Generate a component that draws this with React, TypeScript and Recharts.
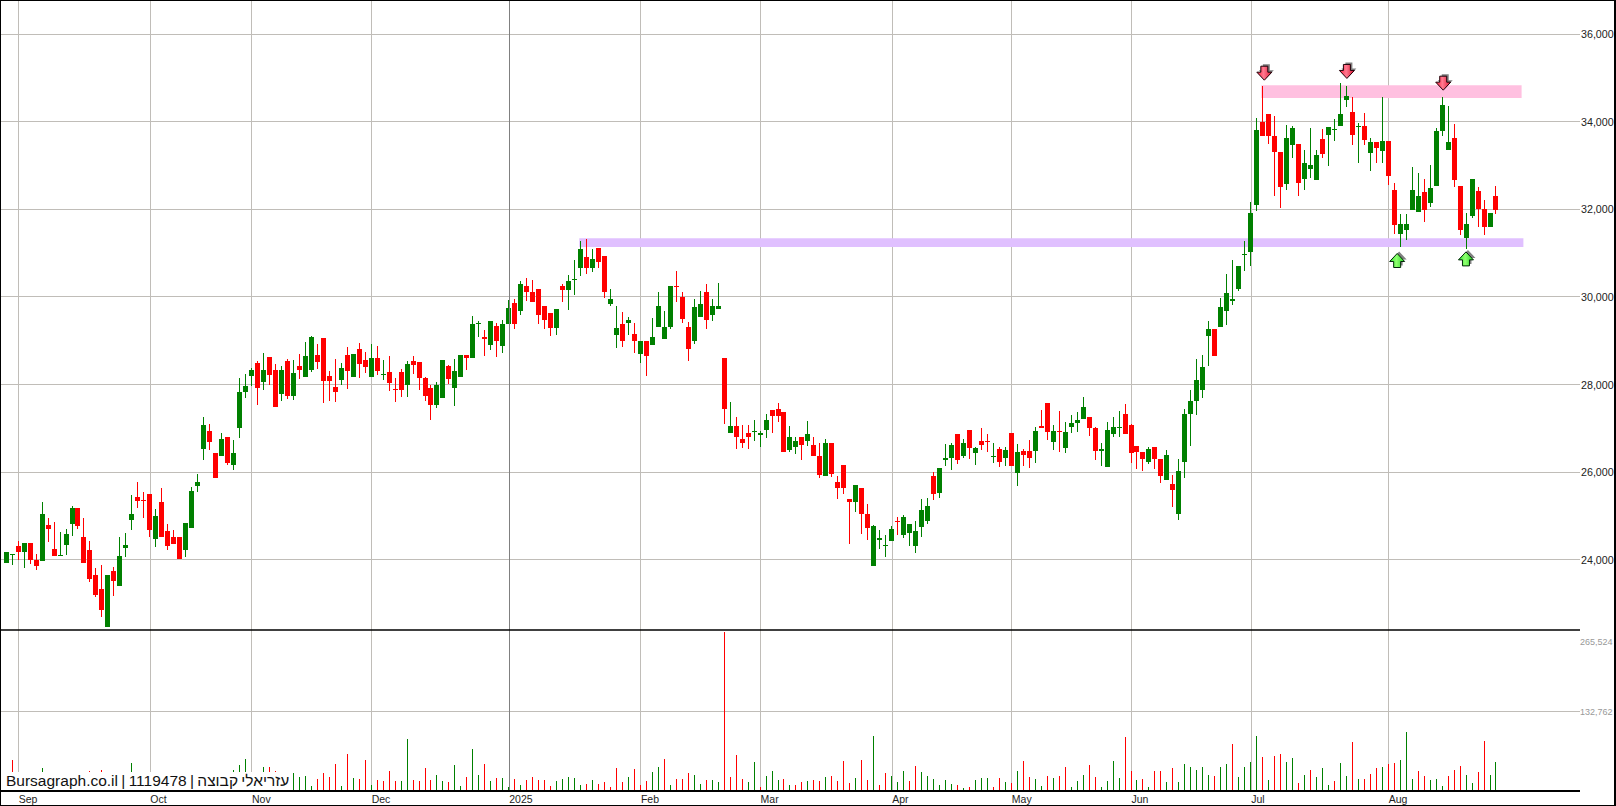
import {
  Bar,
  CartesianGrid,
  ComposedChart,
  ReferenceArea,
  ReferenceDot,
  ReferenceLine,
  XAxis,
  YAxis,
} from 'recharts';

const opens = [
  23915,24098,24304,24167,24372,23984,23961,24784,24235,24083,
  24327,24807,25172,24510,24212,23641,23321,22452,23732,23390,
  24258,24898,25424,25355,25492,24464,25310,24647,24510,24510,
  24212,24715,25675,26521,26932,26430,26361,26795,26155,27000,
  27824,28189,28487,28052,28624,28327,27778,28532,27732,28418,
  28167,28327,28669,29058,28189,27938,28098,28669,28167,28807,
  28555,28167,28601,28212,28281,27892,28281,27984,28532,28509,
  28144,27915,27527,27687,28418,27915,28167,28669,28601,29378,
  29081,28898,29332,28875,29378,29858,29675,30246,30109,30178,
  29789,29629,29286,30246,30155,30384,30658,30909,30658,31115,
  30932,29835,29126,29378,29401,29149,28692,28989,28898,29309,
  29035,29309,30246,29995,29309,28989,29538,30109,29584,29721,
  28602,26887,27047,26750,26887,26910,26842,26956,27413,27436,
  27367,26499,26567,26796,26704,26613,26362,25904,26659,25767,
  26156,25379,25310,25630,25036,23847,24442,24304,24419,24876,
  24556,24602,24304,24739,24876,25904,25516,26270,26316,26864,
  26361,26956,26430,26704,26704,26338,26521,26316,26887,25973,
  26476,26476,26476,27047,27573,26681,26933,26544,27024,27116,
  27207,27253,27001,26476,26110,26864,27001,27321,27070,26590,
  26453,26224,26567,26293,25813,25722,25036,26225,27322,27619,
  27870,29105,29265,29310,29676,29904,30179,30956,31025,32099,
  33996,34179,33676,33310,32579,33470,33493,32693,32922,32670,
  33607,33699,33813,33904,34499,34224,33882,33904,33287,33539,
  33333,33562,32442,31436,31527,31984,31939,32396,32145,32533,
  33790,33356,33630,32533,31344,31847,32419,32007,31596,32304,
];

const closes = [
  24167,24121,24167,24372,23984,23847,25035,24692,24075,24098,
  24578,25172,24761,23915,23550,23184,22841,23641,23504,24075,
  24327,25035,25332,25332,24670,24990,24510,24304,24350,24007,
  24830,25561,25767,27070,26681,25858,26750,26201,26430,27824,
  27961,28327,27915,28327,28212,27481,28327,27732,28258,28327,
  28647,29081,28509,28075,28075,27824,28372,28304,28692,28464,
  28395,28601,28304,28235,28029,27869,27869,28464,28441,28144,
  27732,27527,27984,28555,28121,28304,28669,28601,29378,29401,
  29035,29446,28989,29378,29744,29378,30292,30109,29881,29584,
  29469,29286,29721,30155,30361,30406,31092,30658,30864,30795,
  30109,29949,29286,28989,29469,28989,28989,28646,29081,29789,
  29309,30246,30224,29492,28806,29766,29835,29469,29789,29789,
  27436,27047,26796,26659,26796,26933,26887,27184,27276,27276,
  26453,26796,26704,26613,26864,26362,25927,26659,25950,25630,
  25630,25310,25699,25036,24716,24762,24487,24327,24693,24853,
  24967,24807,24647,25127,25219,25493,26087,26316,26613,26270,
  26658,26544,26544,26613,26681,26361,26224,26498,26133,26453,
  26384,26316,26933,27001,26910,26933,26910,26910,27116,27184,
  27481,27001,26476,26521,26956,27024,27024,26864,26430,26453,
  26293,26521,26293,25904,26384,25584,26019,27322,27619,28099,
  28396,29265,28647,29767,30087,29950,30705,30979,31916,33813,
  33676,33676,33310,32510,33630,33859,32602,33059,33013,33242,
  33264,33882,33836,34179,34590,33699,33904,33584,33539,33402,
  33562,32762,31642,31664,31664,32442,32304,31984,32487,33790,
  34384,33539,32670,31527,31664,32693,32007,31596,31916,31984,
];

const highs = [
  24167,24136,24418,24372,24372,24121,25310,24944,24852,24624,
  24692,25218,25172,24944,24418,23801,23870,23641,23824,24510,
  24601,25470,25767,25538,25492,25150,25630,24807,24670,24510,
  24830,25652,25950,27252,27092,26430,26887,26795,26727,28144,
  28235,28372,28532,28715,28624,28464,28418,28578,28555,28692,
  28967,29104,28921,29058,28304,28578,28487,28852,28692,28944,
  28738,28921,28875,28555,28647,28144,28349,28532,28647,28509,
  28167,27984,28052,28555,28441,28578,28669,28669,29561,29447,
  29241,29446,29401,29469,29926,29949,30361,30429,30384,30178,
  29789,29629,29721,30292,30498,30841,31275,31321,31092,31115,
  30932,30178,29789,29652,29538,29401,28989,28989,29515,30109,
  29675,30246,30589,30109,29424,29949,30132,30292,29949,30315,
  28602,27596,27253,27070,27070,27184,26933,27322,27413,27573,
  27367,27047,26796,26796,27162,26796,26659,26750,26659,25904,
  26156,25379,25699,25630,25264,24785,24670,24556,24762,24967,
  25013,24807,24876,25379,25402,25996,26087,26636,26659,26864,
  26750,26956,26567,27001,26864,26658,26567,26567,26887,26636,
  26521,26727,27024,27413,27573,27070,27390,27138,27298,27367,
  27710,27253,27024,26658,27138,27253,27390,27550,27093,26590,
  26453,26567,26567,26293,26498,25927,26293,27436,27870,28579,
  28670,29447,29265,29973,30522,30842,30705,31276,32167,34087,
  34819,34179,34133,33310,33927,33904,33493,33356,33859,33356,
  33836,33882,34064,34887,34819,34567,33973,34202,33630,33539,
  34567,33562,32602,31893,31893,32967,32830,32693,33013,33859,
  34567,34362,33950,32533,31916,32693,32510,32213,31916,32533,
];

const lows = [
  23915,23870,23984,23801,23892,23755,23961,24395,24075,24075,
  24098,24532,24692,23915,23481,23138,22690,22452,23161,23390,
  24053,24670,25172,24944,24510,24281,24510,24212,24350,24007,
  24053,24715,25538,26270,26498,25858,26361,26155,26041,26772,
  27687,27961,27527,27869,27984,27481,27618,27664,27641,28121,
  28167,28281,28349,27572,27618,27595,27984,27892,28167,28144,
  28258,28167,28212,28098,27847,27595,27709,27709,28235,27869,
  27618,27184,27458,27687,28007,27504,28167,28327,28601,29081,
  28647,28784,28624,28715,29378,29264,29584,29904,29881,29378,
  29264,29104,29126,29881,29698,30041,30475,30521,30566,30658,
  29972,29789,28829,28852,29126,28715,28486,28189,28898,29309,
  29035,29264,29881,29401,28532,28921,29538,29264,29446,29721,
  27093,26887,26522,26545,26522,26704,26567,26773,26887,27139,
  26453,26453,26407,26270,26590,26362,25859,25904,25882,25379,
  25493,24350,25082,24579,24442,23847,24236,24053,24419,24556,
  24487,24304,24144,24510,24807,25356,25402,26133,26042,26179,
  26316,26293,26156,26498,26453,26201,26110,26133,26133,25676,
  26133,26087,26201,27001,26727,26498,26453,26430,26887,26910,
  27207,26818,26270,26133,26110,26796,26796,26864,26201,26064,
  26018,26178,26064,25744,25813,25196,24899,25859,26590,27299,
  27687,28419,28647,29310,29356,29813,30133,30590,30705,31962,
  33676,33493,32304,32030,32442,33173,32304,32442,32716,32670,
  33173,32990,33562,33904,34339,33470,33059,33470,32876,33059,
  33059,32556,31436,31139,31299,31984,31939,31710,32053,32533,
  33676,33356,32510,31413,31093,31802,31596,31413,31596,31893,
];

const volumes = [
  16700,52400,16700,19500,22300,13900,39000,16700,22300,16700,
  16700,16700,19500,19500,34000,19500,35600,25100,16700,22300,
  13900,47300,16700,11100,19500,19500,22300,16700,13900,16700,
  19500,25100,13900,22300,16700,22300,16700,19500,35100,44000,
  54000,16700,22300,40700,40700,34000,19500,32300,30600,24000,
  25600,8900,20600,30600,24000,45700,8900,62400,22300,20600,
  52400,10600,18900,17300,34000,17300,17300,87400,18900,17300,
  39000,18900,27300,17300,15600,44000,8900,24000,70700,27300,
  45700,17300,22300,22300,7200,20600,10600,18900,24000,18900,
  18900,8900,17300,20600,24000,22300,10600,12300,18900,12300,
  15600,7200,39000,15600,24000,37300,10600,17300,32300,40700,
  54000,10600,20600,20600,30600,27300,12300,18900,18900,15600,
  265524,24000,60700,20600,15600,49000,7200,25600,34000,18900,
  20600,10600,10600,15600,17300,18900,17300,24000,25600,17300,
  50700,13900,22300,52400,18900,92500,10600,30600,25600,15600,
  34000,17300,42300,32300,25600,20600,10600,18900,12300,10600,
  5600,7200,18900,22300,22300,7200,22300,15600,13900,34000,
  50700,24000,20600,8900,25600,22300,25600,40700,7200,17300,
  27300,44000,24000,7200,17300,50700,22300,90800,34000,18900,
  20600,7200,34000,34000,15600,39000,15600,45700,40700,35600,
  39500,26200,24500,39500,44600,78000,22800,39500,47900,91300,
  56300,17800,57900,61300,47900,54600,12800,26200,34500,22800,
  37900,9500,16200,46200,24500,81300,19500,19500,27900,37900,
  39500,44600,46200,51200,98000,19500,32900,24500,17800,19500,
  7800,24500,34500,41200,26200,12800,31200,83000,26200,47900,
];

// 1 = closed above the previous close, 0 = below
const volumeUp = [
  1,0,0,1,0,0,1,0,0,1, 1,1,0,0,0,0,0,1,0,1,
  1,1,0,0,0,1,0,0,0,0, 1,1,1,1,0,0,1,0,1,1,
  1,1,0,1,0,0,1,0,1,1, 1,1,0,0,0,0,1,0,1,0,
  0,1,0,0,0,0,1,1,0,0, 0,0,1,1,0,1,1,0,1,1,
  0,1,0,1,1,0,1,0,0,0, 0,0,1,1,1,1,1,0,1,0,
  0,0,0,0,1,0,0,0,1,1, 0,1,0,0,0,1,1,0,1,1,
  0,0,0,0,1,1,0,1,1,1, 0,1,0,0,1,0,0,1,0,0,
  0,0,1,0,0,1,0,0,1,1, 1,0,0,1,1,1,1,1,1,0,
  1,0,1,1,1,0,0,1,0,1, 0,0,1,1,0,1,0,0,1,1,
  1,0,0,1,1,1,1,0,0,1, 0,1,0,0,1,0,1,1,1,1,
  1,1,0,1,1,0,1,1,1,1, 0,1,0,0,1,1,0,1,0,1,
  1,1,0,1,1,0,1,0,0,0, 1,0,0,1,1,1,0,0,1,1,
  1,0,0,0,1,1,0,0,1,1,
];

const monthTicks = [2, 24, 41, 61, 84, 106, 126, 148, 168, 188, 208, 231];
const monthLabels = ['Sep', 'Oct', 'Nov', 'Dec', '2025', 'Feb', 'Mar', 'Apr', 'May', 'Jun', 'Jul', 'Aug'];
const yearTick = 84;

const priceTicks = [24000, 26000, 28000, 30000, 32000, 34000, 36000];
const volumeTicks = [132762, 265524];

const resistanceBand = { from: 209.7, to: 253.2, low: 34551, high: 34841 };
const supportBand = { from: 95.7, to: 253.5, low: 31145, high: 31344 };

const downArrows = [
  { index: 210.2, price: 34955 },
  { index: 224, price: 34995 },
  { index: 240.1, price: 34727 },
];
const upArrows = [
  { index: 232.4, price: 30994 },
  { index: 243.9, price: 31031 },
];

const xDomain = [-1.118, 262.96];
const priceDomain = [22389, 36788];
const volumeDomain = [0, 268870];

const GREEN = '#008000';
const RED = '#ff0000';
const GRID = '#c0bdb8';
const FONT = '"Liberation Sans", Arial, sans-serif';

const candleData = opens.map((open, i) => ({
  index: i,
  open,
  close: closes[i],
  high: highs[i],
  low: lows[i],
  range: [lows[i], highs[i]],
}));

const volumeData = volumes.map((volume, i) => ({
  index: i,
  volume,
  up: volumeUp[i] === 1,
}));

// snap grid lines onto whole pixels, same columns as the candles
const monthGridLines = ({ offset }: any) =>
  monthTicks.map(
    (t) => Math.floor(offset.left + ((t - xDomain[0]) / (xDomain[1] - xDomain[0])) * offset.width) + 0.5
  );
const priceGridLines = ({ offset }: any) =>
  priceTicks.map(
    (t) => Math.floor(offset.top + ((priceDomain[1] - t) / (priceDomain[1] - priceDomain[0])) * offset.height) + 0.5
  );
const volumeGridLines = ({ offset }: any) => [
  Math.floor(offset.top + ((volumeDomain[1] - volumeTicks[0]) / (volumeDomain[1] - volumeDomain[0])) * offset.height) + 0.5,
];

const Candle = (props: any) => {
  const { x, y, width, height, payload } = props;
  const { open, close, high, low } = payload;
  const perUnit = Math.abs(height) / (high - low);
  const px = Math.floor(x + width / 2);
  const top = y + (high - Math.max(open, close)) * perUnit;
  const bodyHeight = Math.max(Math.abs(open - close) * perUnit, 1);
  const color = close >= open ? GREEN : RED;
  return (
    <g shapeRendering="crispEdges">
      <rect x={px} y={y} width={1} height={Math.abs(height)} fill={color} />
      <rect x={px - 2} y={top} width={5} height={bodyHeight} fill={color} />
    </g>
  );
};

const VolumeBar = (props: any) => {
  const { x, y, width, height, payload } = props;
  return (
    <rect
      x={Math.floor(x + width / 2)}
      y={y}
      width={1}
      height={height}
      fill={payload.up ? GREEN : RED}
      shapeRendering="crispEdges"
    />
  );
};

const DownArrow = (props: any) => {
  const { cx, cy } = props;
  const points = `${cx - 3.5},${cy - 14} ${cx + 3.5},${cy - 14} ${cx + 3.5},${cy - 8} ${cx + 7.5},${cy - 8} ${cx},${cy} ${cx - 7.5},${cy - 8} ${cx - 3.5},${cy - 8}`;
  return (
    <g>
      <defs>
        <linearGradient id="arrowRed" x1="0" y1="0" x2="1" y2="0">
          <stop offset="0" stopColor="#ff1a3c" />
          <stop offset="0.45" stopColor="#ff7a90" />
          <stop offset="1" stopColor="#e01030" />
        </linearGradient>
      </defs>
      <polygon points={points} fill="#808080" transform="translate(2,-2)" />
      <polygon points={points} fill="url(#arrowRed)" stroke="#200008" strokeWidth={1} />
    </g>
  );
};

const UpArrow = (props: any) => {
  const { cx, cy } = props;
  const points = `${cx - 3.5},${cy + 14} ${cx + 3.5},${cy + 14} ${cx + 3.5},${cy + 8} ${cx + 7.5},${cy + 8} ${cx},${cy} ${cx - 7.5},${cy + 8} ${cx - 3.5},${cy + 8}`;
  return (
    <g>
      <defs>
        <linearGradient id="arrowGreen" x1="0" y1="0" x2="1" y2="0">
          <stop offset="0" stopColor="#28e828" />
          <stop offset="0.45" stopColor="#90ff70" />
          <stop offset="1" stopColor="#20d820" />
        </linearGradient>
      </defs>
      <polygon points={points} fill="#808080" transform="translate(2,-2)" />
      <polygon points={points} fill="url(#arrowGreen)" stroke="#002808" strokeWidth={1} />
    </g>
  );
};

const NoTick = () => <g />;

const MonthTick = (props: any) => {
  const { x, y, payload } = props;
  return (
    <text x={x} y={y + 10} textAnchor="start" fontFamily={FONT} fontSize={10.5} fill="#222">
      {monthLabels[monthTicks.indexOf(payload.value)]}
    </text>
  );
};

const VolumeTick = (props: any) => {
  const { x, y, payload } = props;
  // the top label hangs under its line so it stays clear of the price panel
  const shift = payload.value === volumeTicks[1] ? 13 : 3;
  return (
    <text x={x - 2} y={y + shift} textAnchor="start" fontFamily={FONT} fontSize={9} fill="#999">
      {payload.value.toLocaleString('en-US')}
    </text>
  );
};

const PriceTick = (props: any) => {
  const { x, y, payload } = props;
  return (
    <text x={x - 1} y={y + 4} textAnchor="start" fontFamily={FONT} fontSize={10.7} fill="#222">
      {payload.value.toLocaleString('en-US')}
    </text>
  );
};

function PriceChart() {
  return (
    <ComposedChart
      width={1616}
      height={631}
      data={candleData}
      margin={{ top: 0, right: 0, bottom: 1, left: 0 }}
    >
      <CartesianGrid
        stroke={GRID}
        verticalCoordinatesGenerator={monthGridLines}
        horizontalCoordinatesGenerator={priceGridLines}
      />
      <XAxis
        dataKey="index"
        type="number"
        domain={xDomain}
        ticks={monthTicks}
        interval={0}
        allowDataOverflow
        tick={<NoTick />}
        tickLine={false}
        axisLine={false}
        height={0}
      />
      <YAxis
        orientation="right"
        width={36}
        domain={priceDomain}
        ticks={priceTicks}
        interval={0}
        allowDataOverflow
        tick={<PriceTick />}
        tickLine={false}
        tickSize={0}
        axisLine={false}
      />
      <ReferenceLine x={yearTick} stroke="#808080" shapeRendering="crispEdges" />
      <ReferenceLine y={priceDomain[0]} stroke="#000" strokeWidth={1.5} />
      <ReferenceArea
        x1={resistanceBand.from}
        x2={resistanceBand.to}
        y1={resistanceBand.low}
        y2={resistanceBand.high}
        fill="#ffc0e0"
        fillOpacity={1}
        stroke="none"
      />
      <ReferenceArea
        x1={supportBand.from}
        x2={supportBand.to}
        y1={supportBand.low}
        y2={supportBand.high}
        fill="#e0c0ff"
        fillOpacity={1}
        stroke="none"
      />
      <Bar dataKey="range" barSize={5} shape={<Candle />} isAnimationActive={false} />
      {downArrows.map((a) => (
        <ReferenceDot key={a.index} x={a.index} y={a.price} shape={<DownArrow />} />
      ))}
      {upArrows.map((a) => (
        <ReferenceDot key={a.index} x={a.index} y={a.price} shape={<UpArrow />} />
      ))}
    </ComposedChart>
  );
}

function VolumeChart() {
  return (
    <ComposedChart
      width={1616}
      height={176}
      data={volumeData}
      margin={{ top: 0, right: 0, bottom: 0, left: 0 }}
    >
      <CartesianGrid
        stroke={GRID}
        verticalCoordinatesGenerator={monthGridLines}
        horizontalCoordinatesGenerator={volumeGridLines}
      />
      <XAxis
        dataKey="index"
        type="number"
        domain={xDomain}
        ticks={monthTicks}
        interval={0}
        allowDataOverflow
        height={15}
        tick={<MonthTick />}
        tickLine={false}
        tickSize={0}
        axisLine={{ stroke: '#000', strokeWidth: 2 }}
      />
      <YAxis
        orientation="right"
        width={36}
        domain={volumeDomain}
        ticks={volumeTicks}
        interval={0}
        allowDataOverflow
        tick={<VolumeTick />}
        tickLine={false}
        tickSize={0}
        axisLine={false}
      />
      <ReferenceLine x={yearTick} stroke="#808080" shapeRendering="crispEdges" />
      <Bar dataKey="volume" barSize={1} shape={<VolumeBar />} isAnimationActive={false} />
    </ComposedChart>
  );
}

export default function App() {
  return (
    <div style={{ position: 'absolute', left: 0, top: 0, width: 1616, height: 806, background: '#fff', overflow: 'hidden' }}>
      <div style={{ position: 'absolute', left: 0, top: 630 }}>
        <VolumeChart />
      </div>
      <div style={{ position: 'absolute', left: 0, top: 0 }}>
        <PriceChart />
      </div>
      <div
        style={{
          position: 'absolute',
          left: 0,
          top: 772,
          width: 290,
          height: 18,
          paddingLeft: 6,
          boxSizing: 'border-box',
          background: '#fff',
          fontFamily: FONT,
          fontSize: 15.5,
          wordSpacing: -1,
          lineHeight: '18px',
          color: '#111',
          whiteSpace: 'nowrap',
        }}
      >
        Bursagraph.co.il | 1119478 | עזריאלי קבוצה
      </div>
      <div
        style={{
          position: 'absolute',
          left: 0,
          top: 0,
          width: 1616,
          height: 806,
          boxSizing: 'border-box',
          borderStyle: 'solid',
          borderColor: '#000',
          borderWidth: '1px 2px 1px 1px',
          pointerEvents: 'none',
        }}
      />
    </div>
  );
}
